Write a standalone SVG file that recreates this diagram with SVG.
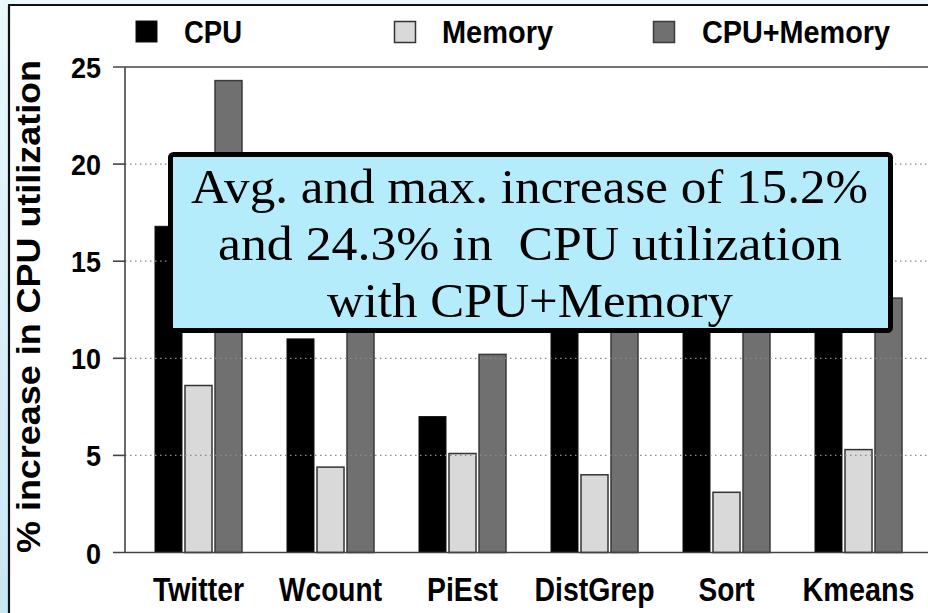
<svg xmlns="http://www.w3.org/2000/svg" width="928" height="613" viewBox="0 0 928 613">
  <defs>
    <linearGradient id="edge" x1="0" y1="0" x2="0" y2="1">
      <stop offset="0" stop-color="#eaf9fc"/>
      <stop offset="1" stop-color="#c9e6f7"/>
    </linearGradient>
    <style>
      .cpu { fill: #000; stroke: #111; stroke-width: 1; }
      .mem { fill: #d9d9d9; stroke: #333; stroke-width: 1.5; }
      .both { fill: #707070; stroke: #3a3a3a; stroke-width: 1.5; }
      .grid { stroke: #8a8a8a; stroke-width: 1.2; stroke-dasharray: 1.5 3.5; }
      .axis { stroke: #444; stroke-width: 1.6; fill: none; }
      .tick { font-family: "Liberation Sans", Arial, sans-serif; font-weight: bold; font-size: 30px; fill: #000; text-anchor: end; }
      .cat { font-family: "Liberation Sans", Arial, sans-serif; font-weight: bold; font-size: 33px; fill: #000; text-anchor: middle; }
      .leg { font-family: "Liberation Sans", Arial, sans-serif; font-weight: bold; font-size: 31px; fill: #000; }
      .note { font-family: "Liberation Serif", "Times New Roman", serif; font-size: 48px; fill: #000; text-anchor: middle; }
    </style>
  </defs>

  <!-- page background and frame -->
  <rect x="0" y="0" width="928" height="613" fill="#fff"/>
  <rect x="0" y="0" width="9" height="613" fill="url(#edge)"/>
  <rect x="0" y="0" width="928" height="4" fill="#eaf9fc"/>
  <line x1="9" y1="5" x2="9" y2="613" stroke="#111" stroke-width="2.2"/>
  <line x1="8" y1="5" x2="928" y2="5" stroke="#111" stroke-width="2.2"/>

  <!-- legend -->
  <g id="legend">
    <rect x="136" y="21" width="21" height="21" class="cpu"/>
    <text x="184" y="43" class="leg" textLength="58" lengthAdjust="spacingAndGlyphs">CPU</text>
    <rect x="394.5" y="21.5" width="21" height="21" class="mem"/>
    <text x="442" y="43" class="leg" textLength="111" lengthAdjust="spacingAndGlyphs">Memory</text>
    <rect x="653.5" y="21.5" width="21" height="21" class="both"/>
    <text x="702" y="43" class="leg" textLength="188" lengthAdjust="spacingAndGlyphs">CPU+Memory</text>
  </g>

  <!-- y axis label -->
  <text transform="translate(40,306.5) rotate(-90)" x="0" y="0" font-family="'Liberation Sans', Arial, sans-serif" font-weight="bold" font-size="34" text-anchor="middle" textLength="493" lengthAdjust="spacingAndGlyphs">% increase in CPU utilization</text>

  <!-- bars: y = 552.5 - v*19.42, group pitch 132 -->
  <g id="bars">
    <g id="twitter">
      <rect x="155" y="226.3" width="27" height="326.2" class="cpu"/>
      <rect x="185" y="385.5" width="27" height="167" class="mem"/>
      <rect x="215" y="80.6" width="27" height="471.9" class="both"/>
    </g>
    <g id="wcount">
      <rect x="287" y="338.9" width="27" height="213.6" class="cpu"/>
      <rect x="317" y="467.1" width="27" height="85.4" class="mem"/>
      <rect x="347" y="276.7" width="27" height="275.8" class="both"/>
    </g>
    <g id="piest">
      <rect x="419" y="416.6" width="27" height="135.9" class="cpu"/>
      <rect x="449" y="453.5" width="27" height="99" class="mem"/>
      <rect x="479" y="354.4" width="27" height="198.1" class="both"/>
    </g>
    <g id="distgrep">
      <rect x="551" y="290.3" width="27" height="262.2" class="cpu"/>
      <rect x="581" y="474.8" width="27" height="77.7" class="mem"/>
      <rect x="611" y="255.4" width="27" height="297.1" class="both"/>
    </g>
    <g id="sort">
      <rect x="683" y="284.5" width="27" height="268" class="cpu"/>
      <rect x="713" y="492.3" width="27" height="60.2" class="mem"/>
      <rect x="743" y="278.7" width="27" height="273.8" class="both"/>
    </g>
    <g id="kmeans">
      <rect x="815" y="319.5" width="27" height="233" class="cpu"/>
      <rect x="845" y="449.6" width="27" height="102.9" class="mem"/>
      <rect x="875" y="298.1" width="27" height="254.4" class="both"/>
    </g>
  </g>

  <!-- grid and axes -->
  <g id="axes">
    <line x1="125" y1="455.4" x2="928" y2="455.4" class="grid"/>
    <line x1="125" y1="358.3" x2="928" y2="358.3" class="grid"/>
    <line x1="125" y1="261.2" x2="928" y2="261.2" class="grid"/>
    <line x1="125" y1="164.1" x2="928" y2="164.1" class="grid"/>
    <line x1="113" y1="67" x2="928" y2="67" class="axis"/>
    <line x1="113" y1="552.5" x2="928" y2="552.5" class="axis"/>
    <line x1="125" y1="67" x2="125" y2="552.5" class="axis"/>
    <line x1="113" y1="455.4" x2="125" y2="455.4" class="axis"/>
    <line x1="113" y1="358.3" x2="125" y2="358.3" class="axis"/>
    <line x1="113" y1="261.2" x2="125" y2="261.2" class="axis"/>
    <line x1="113" y1="164.1" x2="125" y2="164.1" class="axis"/>
    <text x="101" y="78" class="tick" textLength="30" lengthAdjust="spacingAndGlyphs">25</text>
    <text x="101" y="175" class="tick" textLength="30" lengthAdjust="spacingAndGlyphs">20</text>
    <text x="101" y="272" class="tick" textLength="30" lengthAdjust="spacingAndGlyphs">15</text>
    <text x="101" y="369" class="tick" textLength="30" lengthAdjust="spacingAndGlyphs">10</text>
    <text x="101" y="466" class="tick" textLength="15" lengthAdjust="spacingAndGlyphs">5</text>
    <text x="101" y="563.5" class="tick" textLength="15" lengthAdjust="spacingAndGlyphs">0</text>
  </g>

  <!-- category labels -->
  <g id="categories">
    <text x="198.5" y="601" class="cat" textLength="91" lengthAdjust="spacingAndGlyphs">Twitter</text>
    <text x="330.5" y="601" class="cat" textLength="103" lengthAdjust="spacingAndGlyphs">Wcount</text>
    <text x="462.5" y="601" class="cat" textLength="71" lengthAdjust="spacingAndGlyphs">PiEst</text>
    <text x="594.5" y="601" class="cat" textLength="120" lengthAdjust="spacingAndGlyphs">DistGrep</text>
    <text x="726.5" y="601" class="cat" textLength="56" lengthAdjust="spacingAndGlyphs">Sort</text>
    <text x="858.5" y="601" class="cat" textLength="112" lengthAdjust="spacingAndGlyphs">Kmeans</text>
  </g>

  <!-- callout -->
  <g id="callout">
    <rect x="170.5" y="154.5" width="720" height="176" rx="3" fill="#b5ecfb" stroke="#000" stroke-width="5"/>
    <text x="529.5" y="203" class="note" textLength="677" lengthAdjust="spacingAndGlyphs">Avg. and max. increase of 15.2%</text>
    <text x="530" y="260" class="note" textLength="624" lengthAdjust="spacingAndGlyphs" xml:space="preserve">and 24.3% in  CPU utilization</text>
    <text x="530" y="317" class="note" textLength="406" lengthAdjust="spacingAndGlyphs">with CPU+Memory</text>
  </g>
</svg>
